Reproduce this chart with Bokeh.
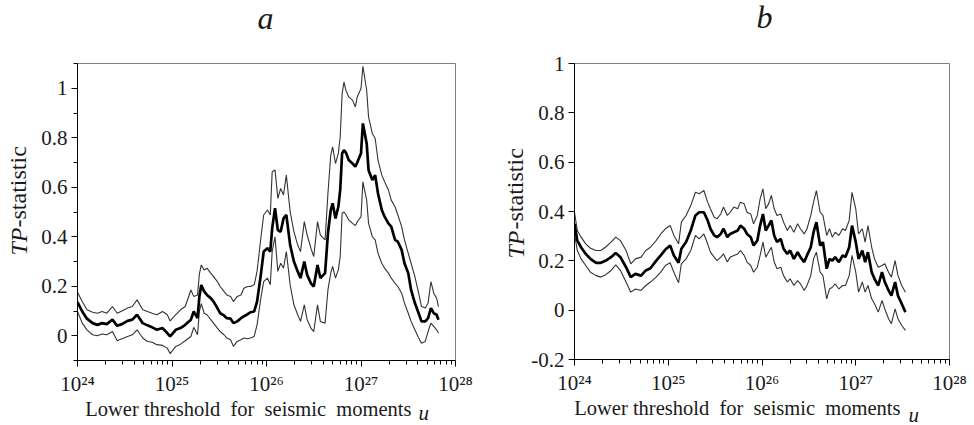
import math
from bokeh.plotting import figure
from bokeh.layouts import row
from bokeh.models import FixedTicker, Label, Range1d
from bokeh.embed import file_html
from bokeh.resources import INLINE

# ---------------- data ----------------
a_log_u = [24.00, 24.05, 24.10, 24.16, 24.21, 24.26, 24.31, 24.37, 24.42, 24.47,
           24.53, 24.58, 24.63, 24.69, 24.74, 24.79, 24.84, 24.90, 24.95, 24.98,
           25.04, 25.09, 25.14, 25.20, 25.23, 25.27, 25.29, 25.31,
           25.34, 25.37, 25.41, 25.44, 25.48, 25.51, 25.55, 25.58, 25.62, 25.65,
           25.69, 25.73, 25.76, 25.80, 25.83, 25.87, 25.90, 25.94, 25.97, 26.01,
           26.04, 26.06, 26.09, 26.12, 26.15, 26.18, 26.21, 26.25, 26.29, 26.33,
           26.36, 26.40, 26.43, 26.47, 26.50, 26.54, 26.57,
           26.62, 26.65, 26.68, 26.70, 26.73, 26.76, 26.78, 26.80, 26.82, 26.84,
           26.87, 26.91, 26.94, 26.96, 27.00, 27.02, 27.06, 27.08, 27.12, 27.15,
           27.18, 27.22, 27.25, 27.29, 27.32, 27.36, 27.39, 27.43, 27.46, 27.50,
           27.53, 27.57, 27.61, 27.64, 27.68, 27.71, 27.74, 27.77, 27.80, 27.82]
a_center = [0.136, 0.098, 0.069, 0.051, 0.044, 0.051, 0.047, 0.065, 0.040, 0.047,
            0.060, 0.065, 0.085, 0.051, 0.042, 0.034, 0.024, 0.031, 0.011, -0.003,
            0.024, 0.031, 0.044, 0.065, 0.098, 0.071, 0.160, 0.205,
            0.179, 0.165, 0.152, 0.138, 0.112, 0.091, 0.082, 0.071, 0.069, 0.051,
            0.058, 0.071, 0.078, 0.087, 0.095, 0.098, 0.138, 0.246, 0.340, 0.354,
            0.340, 0.434, 0.515, 0.427, 0.420, 0.474, 0.488, 0.367, 0.300, 0.260,
            0.233, 0.300, 0.246, 0.212, 0.199, 0.286, 0.233,
            0.253, 0.414, 0.508, 0.535, 0.474, 0.521, 0.589, 0.737, 0.750, 0.740,
            0.710, 0.696, 0.683, 0.700, 0.737, 0.858, 0.777, 0.669, 0.629, 0.649,
            0.575, 0.508, 0.481, 0.454, 0.441, 0.387, 0.380, 0.347, 0.293, 0.253,
            0.185, 0.132, 0.091, 0.058, 0.058, 0.071, 0.112, 0.091, 0.085, 0.065]
a_upper = [0.176, 0.138, 0.105, 0.095, 0.091, 0.098, 0.091, 0.118, 0.091, 0.100,
           0.112, 0.118, 0.145, 0.105, 0.098, 0.091, 0.085, 0.098, 0.085, 0.060,
           0.085, 0.105, 0.118, 0.185, 0.159, 0.165, 0.250, 0.286,
           0.266, 0.273, 0.253, 0.239, 0.219, 0.199, 0.179, 0.165, 0.159, 0.138,
           0.159, 0.165, 0.192, 0.199, 0.199, 0.206, 0.260, 0.394, 0.488, 0.508,
           0.488, 0.663, 0.670, 0.555, 0.595, 0.569, 0.649, 0.501, 0.421, 0.367,
           0.340, 0.461, 0.407, 0.354, 0.320, 0.461, 0.407,
           0.387, 0.575, 0.730, 0.763, 0.696, 0.737, 0.804, 0.978, 1.025, 0.992,
           0.965, 0.952, 0.925, 0.965, 0.999, 1.089, 0.992, 0.884, 0.817, 0.797,
           0.710, 0.649, 0.622, 0.589, 0.548, 0.521, 0.488, 0.441, 0.387, 0.333,
           0.293, 0.239, 0.172, 0.118, 0.112, 0.132, 0.219, 0.172, 0.152, 0.118]
a_lower = [0.098, 0.051, 0.024, 0.004, 0.000, 0.007, 0.004, 0.017, -0.020, -0.012,
           -0.003, 0.004, 0.024, -0.009, -0.023, -0.026, -0.036, -0.039, -0.050, -0.072,
           -0.043, -0.034, -0.020, -0.003, 0.034, 0.004, 0.100, 0.130,
           0.091, 0.085, 0.065, 0.051, 0.031, 0.017, 0.004, -0.009, -0.016, -0.043,
           -0.023, -0.016, -0.009, -0.012, -0.009, -0.003, 0.044, 0.152, 0.219, 0.233,
           0.206, 0.340, 0.400, 0.260, 0.293, 0.273, 0.340, 0.206, 0.125, 0.085,
           0.058, 0.125, 0.065, 0.031, 0.017, 0.125, 0.058,
           0.051, 0.185, 0.253, 0.280, 0.233, 0.266, 0.320, 0.495, 0.500, 0.490,
           0.468, 0.454, 0.445, 0.460, 0.481, 0.622, 0.548, 0.454, 0.400, 0.387,
           0.333, 0.293, 0.273, 0.253, 0.233, 0.212, 0.199, 0.172, 0.132, 0.091,
           0.058, 0.024, -0.009, -0.030, -0.023, 0.017, 0.051, 0.038, 0.024, 0.011]

b_log_u = [24.00, 24.03, 24.07, 24.12, 24.17, 24.23, 24.28, 24.33, 24.39, 24.44,
           24.49, 24.55, 24.60, 24.65, 24.71, 24.76, 24.81, 24.87, 24.92, 24.97,
           25.02, 25.06, 25.11, 25.14, 25.19, 25.24, 25.29, 25.33,
           25.38, 25.42, 25.45, 25.49, 25.52, 25.56, 25.59, 25.63, 25.66, 25.70,
           25.74, 25.77, 25.81, 25.84, 25.88, 25.91, 25.95, 25.98, 26.01, 26.04,
           26.07, 26.10, 26.13, 26.16, 26.20, 26.23, 26.27, 26.30, 26.34, 26.38,
           26.41, 26.45, 26.48, 26.52, 26.55, 26.58, 26.62, 26.65, 26.69, 26.72,
           26.75, 26.78, 26.82, 26.86, 26.89, 26.93, 26.96, 27.00, 27.03, 27.07,
           27.10, 27.13, 27.17, 27.20, 27.24, 27.28, 27.31, 27.35, 27.38, 27.42,
           27.45, 27.49, 27.53]
b_center = [0.350, 0.282, 0.255, 0.228, 0.208, 0.192, 0.192, 0.200, 0.215, 0.232,
            0.215, 0.174, 0.134, 0.147, 0.140, 0.161, 0.170, 0.200, 0.222, 0.246,
            0.262, 0.222, 0.192, 0.249, 0.276, 0.323, 0.384, 0.397,
            0.397, 0.364, 0.330, 0.303, 0.296, 0.309, 0.330, 0.296, 0.309, 0.316,
            0.323, 0.343, 0.330, 0.309, 0.296, 0.262, 0.282, 0.343, 0.390, 0.323,
            0.343, 0.364, 0.303, 0.276, 0.289, 0.249, 0.228, 0.242, 0.208, 0.235,
            0.215, 0.195, 0.222, 0.255, 0.316, 0.357, 0.262, 0.276, 0.168, 0.208,
            0.201, 0.215, 0.195, 0.222, 0.215, 0.255, 0.343, 0.276, 0.208, 0.242,
            0.195, 0.235, 0.154, 0.127, 0.100, 0.154, 0.114, 0.080, 0.059, 0.114,
            0.059, 0.026, -0.008]
b_upper = [0.397, 0.323, 0.296, 0.269, 0.251, 0.242, 0.242, 0.255, 0.276, 0.296,
           0.282, 0.242, 0.188, 0.208, 0.215, 0.242, 0.255, 0.282, 0.309, 0.330,
           0.343, 0.303, 0.269, 0.357, 0.384, 0.424, 0.478, 0.472,
           0.485, 0.438, 0.411, 0.377, 0.370, 0.390, 0.418, 0.384, 0.397, 0.418,
           0.411, 0.438, 0.431, 0.397, 0.390, 0.350, 0.384, 0.451, 0.492, 0.411,
           0.431, 0.465, 0.411, 0.384, 0.390, 0.357, 0.323, 0.343, 0.316, 0.350,
           0.330, 0.309, 0.330, 0.384, 0.438, 0.485, 0.397, 0.384, 0.303, 0.330,
           0.296, 0.316, 0.303, 0.330, 0.323, 0.364, 0.478, 0.411, 0.309, 0.330,
           0.276, 0.343, 0.255, 0.208, 0.174, 0.181, 0.188, 0.154, 0.134, 0.201,
           0.141, 0.100, 0.073]
b_lower = [0.309, 0.242, 0.208, 0.181, 0.154, 0.140, 0.134, 0.143, 0.161, 0.184,
           0.161, 0.114, 0.073, 0.086, 0.080, 0.100, 0.114, 0.134, 0.154, 0.181,
           0.192, 0.154, 0.111, 0.188, 0.208, 0.242, 0.303, 0.289,
           0.309, 0.269, 0.235, 0.215, 0.201, 0.215, 0.228, 0.195, 0.215, 0.222,
           0.228, 0.242, 0.222, 0.195, 0.181, 0.154, 0.174, 0.222, 0.276, 0.215,
           0.235, 0.255, 0.195, 0.168, 0.174, 0.140, 0.114, 0.127, 0.100, 0.120,
           0.107, 0.080, 0.100, 0.140, 0.208, 0.235, 0.154, 0.140, 0.046, 0.086,
           0.093, 0.107, 0.086, 0.100, 0.100, 0.140, 0.222, 0.154, 0.073, 0.114,
           0.073, 0.100, 0.046, 0.026, -0.008, 0.039, 0.005, -0.035, -0.055, 0.005,
           -0.035, -0.062, -0.082]

x_major_ticks = [1e24, 1e25, 1e26, 1e27, 1e28]
x_major_labels = ["10\u00b2\u2074", "10\u00b2\u2075", "10\u00b2\u2076", "10\u00b2\u2077", "10\u00b2\u2078"]
x_minor_ticks = [m * t for t in x_major_ticks[:-1] for m in range(2, 10)]

a_y_ticks = [0.0, 0.2, 0.4, 0.6, 0.8, 1.0]
a_y_labels = ["0", "0.2", "0.4", "0.6", "0.8", "1"]
a_y_minor = [-0.1, 0.1, 0.3, 0.5, 0.7, 0.9, 1.1]
b_y_ticks = [-0.2, 0.0, 0.2, 0.4, 0.6, 0.8, 1.0]
b_y_labels = ["-0.2", "0", "0.2", "0.4", "0.6", "0.8", "1"]

x_title = "Lower threshold\u00a0 for\u00a0 seismic\u00a0 moments"
x_var = "u"
y_title_italic = "TP"
y_title_rest = "-statistic"
FONT = "Liberation Serif"


def make_panel(letter, log_u, center, upper, lower, y_range, yt, yl, ymin,
               b_left, b_right, b_top, b_bottom, fw, fh, off):
    p = figure(x_axis_type="log", x_range=Range1d(1e24, 1e28), y_range=Range1d(*y_range),
               frame_width=fw, frame_height=fh,
               min_border_left=b_left, min_border_right=b_right,
               min_border_top=b_top, min_border_bottom=b_bottom,
               output_backend="svg", toolbar_location=None,
               background_fill_color="white", border_fill_color="white")
    u = [10.0 ** e for e in log_u]
    p.line(u, upper, line_color="#333333", line_width=1.1)
    p.line(u, lower, line_color="#333333", line_width=1.1)
    p.line(u, center, line_color="black", line_width=2.7)

    p.grid.visible = False
    p.outline_line_color = "#808080"
    p.outline_line_width = 1

    xa = p.xaxis[0]
    xa.ticker = FixedTicker(ticks=x_major_ticks, minor_ticks=x_minor_ticks)
    xa.major_label_overrides = dict(zip(x_major_ticks, x_major_labels))
    ya = p.yaxis[0]
    ya.ticker = FixedTicker(ticks=yt, minor_ticks=ymin)
    ya.major_label_overrides = dict(zip(yt, yl))
    for ax in (xa, ya):
        ax.axis_line_color = "black"
        ax.major_tick_line_color = "black"
        ax.minor_tick_line_color = "black"
        ax.major_tick_in = 0
        ax.minor_tick_in = 0
        ax.major_tick_out = 6
        ax.minor_tick_out = 4
        ax.major_label_text_font = FONT
        ax.major_label_text_font_size = "21px"
        ax.major_label_text_color = "#1a1a1a"
    xa.major_label_standoff = 5
    ya.major_label_standoff = 4

    common = dict(x_units="screen", y_units="screen", text_font=FONT, text_color="#1a1a1a")
    # one label per side panel (side panels are not clipped to the frame)
    p.add_layout(Label(x=off["u"][0], y=off["u"][1], text=x_var, text_align="left",
                       text_baseline="alphabetic", text_font_size="21px",
                       text_font_style="italic", **common), "above")
    p.add_layout(Label(x=off["tp"][0], y=off["tp"][1], text=y_title_italic, angle=math.pi / 2,
                       text_align="right", text_baseline="middle", text_font_size="24px",
                       text_font_style="italic", **common), "above")
    p.add_layout(Label(x=off["letter"][0], y=off["letter"][1], text=letter, text_align="center",
                       text_baseline="alphabetic", text_font_size="32px",
                       text_font_style="italic", **common), "right")
    p.add_layout(Label(x=off["stat"][0], y=off["stat"][1], text=y_title_rest, angle=math.pi / 2,
                       text_align="left", text_baseline="middle", text_font_size="24px",
                       **common), "left")
    p.add_layout(Label(x=off["xt"][0], y=off["xt"][1], text=x_title, text_align="right",
                       text_baseline="alphabetic", text_font_size="20.5px", **common), "below")
    return p


pa = make_panel("a", a_log_u, a_center, a_upper, a_lower, (-0.1, 1.1),
                a_y_ticks, a_y_labels, a_y_minor,
                77, 32, 58, 70, 378, 297,
                {"u": (341, -349), "tp": (-59, -188), "letter": (-190, 343),
                 "stat": (5, 133), "xt": (334, 12)})
pb = make_panel("b", b_log_u, b_center, b_upper, b_lower, (-0.2, 1.0),
                b_y_ticks, b_y_labels, [],
                87, 25, 63, 66, 375, 296,
                {"u": (334, -351), "tp": (-59, -191), "letter": (-185, 343),
                 "stat": (12, 130), "xt": (326, 12)})

layout = row(pa, pb)
open("out.html", "w").write(file_html(layout, INLINE))
